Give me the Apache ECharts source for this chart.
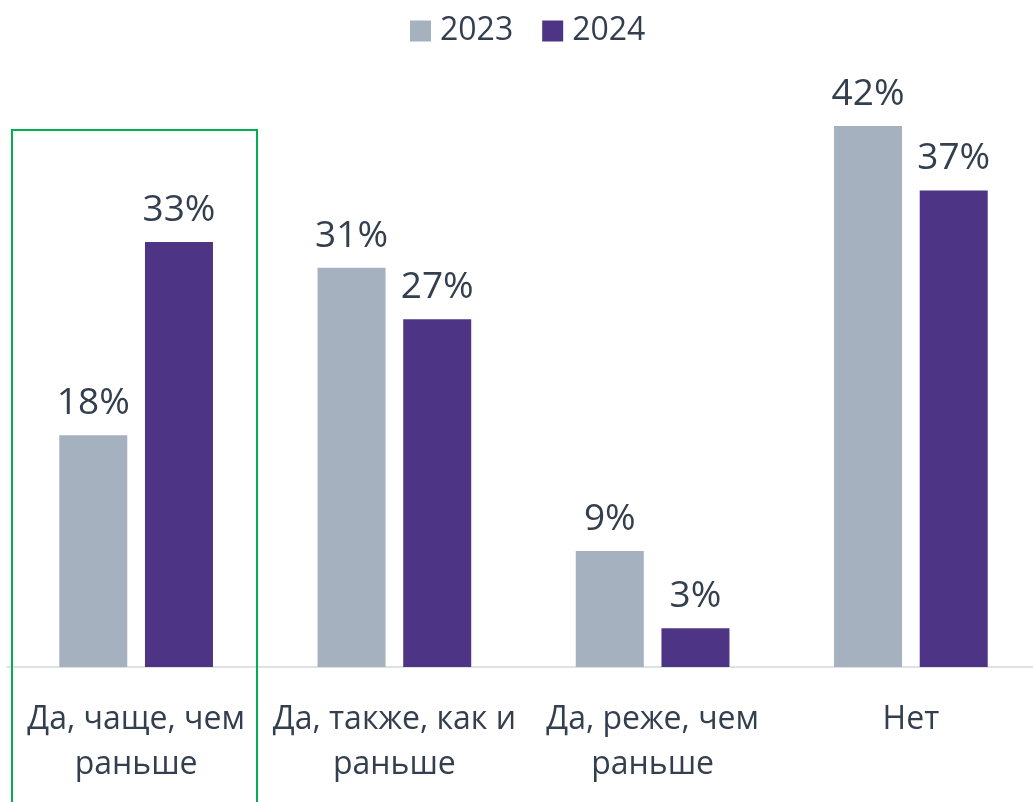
<!DOCTYPE html>
<html>
<head>
<meta charset="utf-8">
<style>
  html, body { margin: 0; padding: 0; background: #ffffff; }
  #chart { width: 1033px; height: 802px; }
</style>
<script src="https://cdn.jsdelivr.net/npm/echarts@6/dist/echarts.min.js"></script>
</head>
<body>
<div id="chart"></div>
<script>
const categories = ["Да, чаще, чем\nраньше", "Да, также, как и\nраньше", "Да, реже, чем\nраньше", "Нет"];
const seriesNames = ["2023", "2024"];
const values2023 = [18, 31, 9, 42];
const values2024 = [33, 27, 3, 37];

(function () {
  const chart = echarts.init(document.getElementById("chart"));
  const font = "'Open Sans', 'Noto Sans', sans-serif";
  const textColor = "#333f4f";
  const colors = { grey: "#a5b1be", purple: "#4e3484", green: "#00b050", axis: "#dde2e7" };

  const label = {
    show: true,
    position: "top",
    distance: 13,
    formatter: "{c}%",
    color: textColor,
    fontFamily: font,
    fontSize: 37,
  };

  chart.setOption({
    animation: false,
    backgroundColor: "#ffffff",
    legend: {
      top: 10,
      left: 405,
      itemWidth: 21,
      itemHeight: 21,
      itemGap: 29,
      icon: "rect",
      textStyle: { color: textColor, fontFamily: font, fontSize: 32, padding: [0, 0, 0, 4] },
      data: seriesNames,
    },
    grid: { left: 7, width: 1033, top: 23, bottom: 135, outerBoundsMode: "none", containLabel: false },
    xAxis: {
      type: "category",
      data: categories,
      axisTick: { show: false },
      axisLine: { lineStyle: { color: colors.axis, width: 2 } },
      axisLabel: {
        interval: 0,
        margin: 30,
        color: textColor,
        fontFamily: font,
        fontSize: 32,
        lineHeight: 45,
      },
    },
    yAxis: { type: "value", min: 0, max: 50, show: false, splitLine: { show: false } },
    series: [
      {
        name: seriesNames[0],
        type: "bar",
        data: values2023,
        barWidth: 68,
        barGap: "26%",
        itemStyle: { color: colors.grey },
        label: label,
      },
      {
        name: seriesNames[1],
        type: "bar",
        data: values2024,
        barWidth: 68,
        itemStyle: { color: colors.purple },
        label: label,
      },
    ],
    graphic: [
      {
        type: "rect",
        shape: { x: 12, y: 130, width: 245, height: 700 },
        style: { fill: "none", stroke: colors.green, lineWidth: 2 },
        z: 10,
      },
    ],
  });

  window.addEventListener("resize", function () {
    chart.resize();
  });
})();
</script>
</body>
</html>
